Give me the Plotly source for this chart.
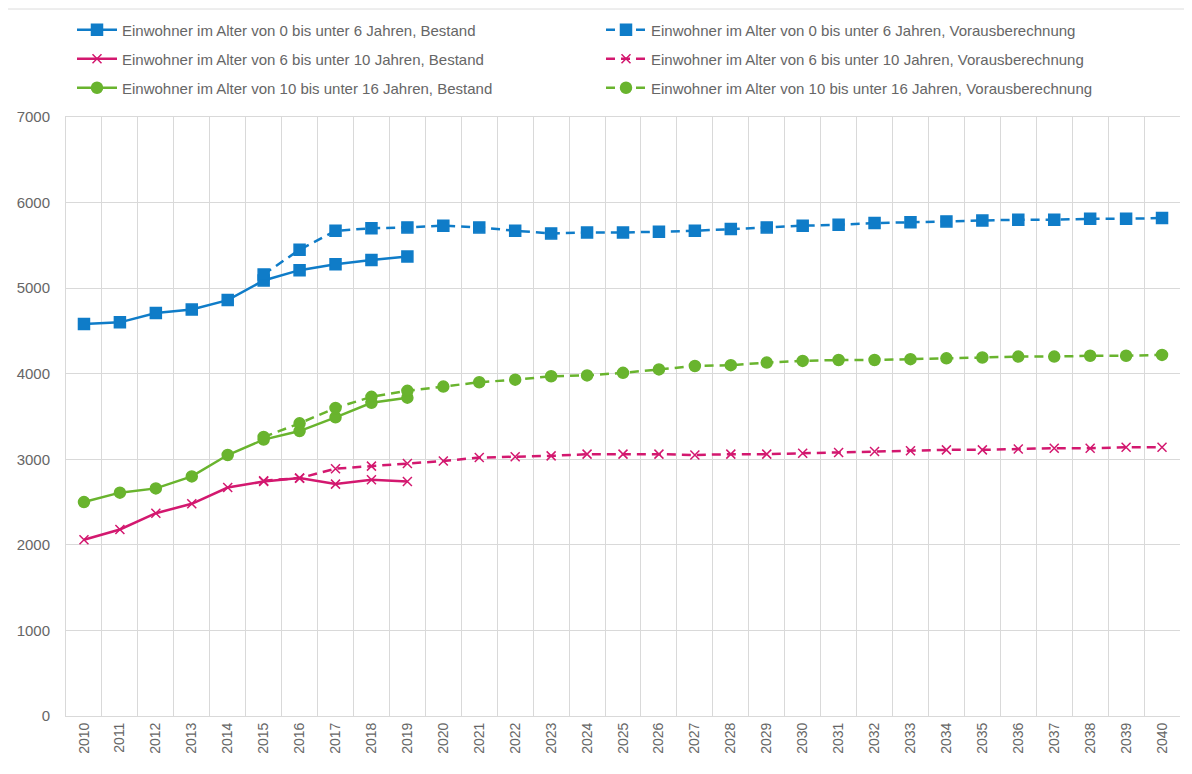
import plotly.graph_objects as go

years = [str(y) for y in range(2010, 2041)]
years_bestand = [str(y) for y in range(2010, 2020)]
years_voraus = [str(y) for y in range(2015, 2041)]

blue_bestand = [4580, 4600, 4710, 4750, 4860, 5090, 5210, 5280, 5330, 5370]
blue_voraus = [5160, 5450, 5670, 5700, 5710, 5730, 5710, 5670, 5640, 5650, 5650, 5660, 5670,
               5690, 5710, 5730, 5740, 5760, 5770, 5780, 5790, 5800, 5800, 5810, 5810, 5820]

pink_bestand = [2060, 2180, 2370, 2480, 2670, 2740, 2780, 2710, 2760, 2740]
pink_voraus = [2750, 2780, 2890, 2920, 2950, 2980, 3020, 3030, 3040, 3060, 3060, 3060, 3050,
               3060, 3060, 3070, 3080, 3090, 3100, 3110, 3110, 3120, 3130, 3130, 3140, 3140]

green_bestand = [2500, 2610, 2660, 2800, 3050, 3230, 3330, 3490, 3660, 3720]
green_voraus = [3260, 3420, 3600, 3730, 3800, 3850, 3900, 3930, 3970, 3980, 4010, 4050, 4090,
                4100, 4130, 4150, 4160, 4160, 4170, 4180, 4190, 4200, 4200, 4210, 4210, 4220]

names = [
    "Einwohner im Alter von 0 bis unter 6 Jahren, Bestand",
    "Einwohner im Alter von 0 bis unter 6 Jahren, Vorausberechnung",
    "Einwohner im Alter von 6 bis unter 10 Jahren, Bestand",
    "Einwohner im Alter von 6 bis unter 10 Jahren, Vorausberechnung",
    "Einwohner im Alter von 10 bis unter 16 Jahren, Bestand",
    "Einwohner im Alter von 10 bis unter 16 Jahren, Vorausberechnung",
]

BLUE = "#0f7cc8"
PINK = "#d3186f"
GREEN = "#69b42e"
DASH = "9px,6px"
TXT = "#666666"
FONT = "Liberation Sans, Arial, sans-serif"

fig = go.Figure()

series = [
    (years_bestand, blue_bestand, names[0], BLUE, "square", 11, "solid", "legend"),
    (years_voraus, blue_voraus, names[1], BLUE, "square", 11, DASH, "legend"),
    (years_bestand, pink_bestand, names[2], PINK, "x-thin", 9, "solid", "legend2"),
    (years_voraus, pink_voraus, names[3], PINK, "x-thin", 9, DASH, "legend2"),
    (years_bestand, green_bestand, names[4], GREEN, "circle", 11, "solid", "legend3"),
    (years_voraus, green_voraus, names[5], GREEN, "circle", 11, DASH, "legend3"),
]

for x, y, name, color, symbol, size, dash, leg in series:
    fig.add_trace(go.Scatter(
        x=x, y=y, name=name, mode="lines+markers",
        line=dict(color=color, width=2.5, dash=dash),
        marker=dict(symbol=symbol, size=size, color=color,
                    line=dict(color=color, width=1.5)),
        legend=leg,
    ))

W, H = 1184, 766  # page body has an 8px margin
PW, PH = 1114, 599

legend_common = dict(
    orientation="h", xref="container", yref="container", x=64 / W,
    xanchor="left", yanchor="middle",
    entrywidth=474, entrywidthmode="pixels",
    font=dict(family=FONT, size=15, color=TXT),
    bgcolor="rgba(0,0,0,0)", itemwidth=40,
)

fig.update_layout(
    width=W, height=H,
    paper_bgcolor="white", plot_bgcolor="white",
    margin=dict(l=58, r=12, t=109, b=58, autoexpand=False),
    font=dict(family=FONT, size=14, color=TXT),
    legend=dict(legend_common, y=1 - 22 / H),
    legend2=dict(legend_common, y=1 - 51 / H),
    legend3=dict(legend_common, y=1 - 80 / H),
    xaxis=dict(
        type="category", categoryorder="array", categoryarray=years,
        tickson="boundaries", showgrid=True, gridcolor="#d9d9d9", gridwidth=1,
        showline=True, linecolor="#d9d9d9", mirror=True,
        tickangle=-90, ticks="", tickfont=dict(size=14, color=TXT),
        range=[-0.5, len(years) - 0.5],
    ),
    yaxis=dict(
        range=[0, 7000], dtick=1000, showgrid=True, gridcolor="#d9d9d9", gridwidth=1,
        showline=True, linecolor="#d9d9d9", zeroline=False,
        ticks="", ticklabelstandoff=12, tickfont=dict(size=15, color=TXT),
    ),
    shapes=[dict(type="rect", xref="paper", yref="paper",
                 x0=-63 / PW, x1=1 + 30 / PW, y0=-80 / PH, y1=1 + 108 / PH,
                 line=dict(color="#dcdcdc", width=1), fillcolor="rgba(0,0,0,0)")],
)

fig.write_html("out.html")
